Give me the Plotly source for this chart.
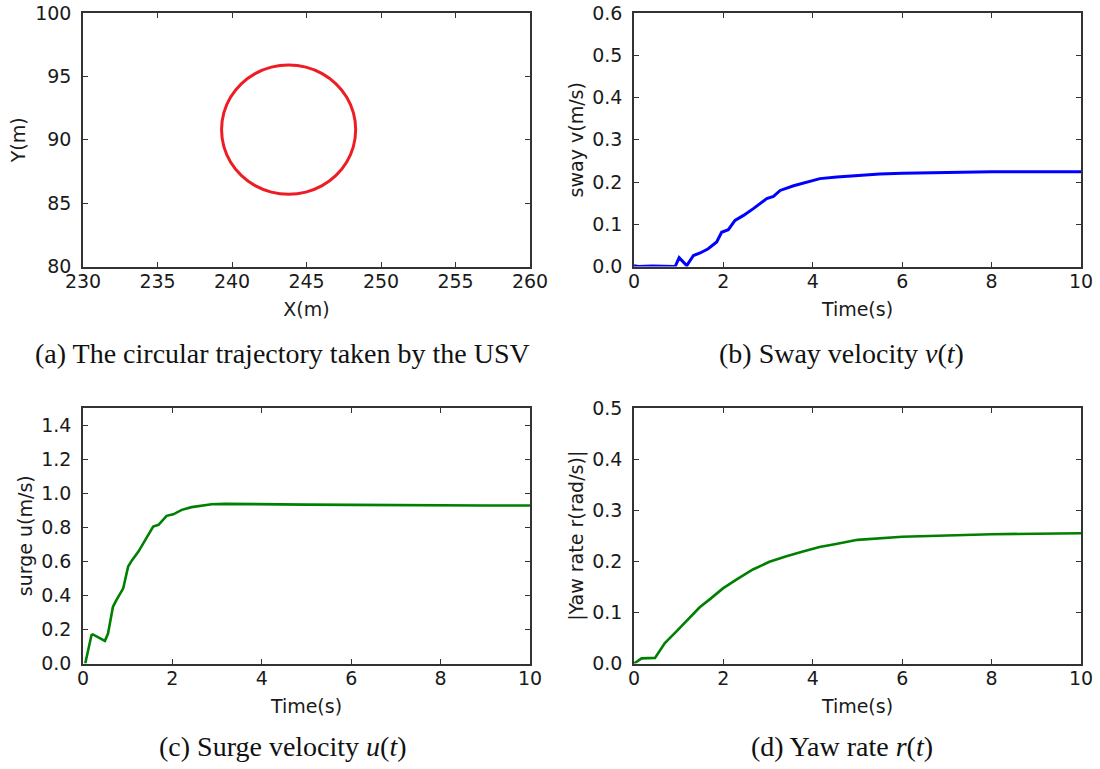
import plotly.graph_objects as go

# ---------------- data ----------------
# (a) trajectory
traj_x = [248.3, 248.15, 247.7, 246.98, 246.05, 244.96, 243.8, 242.64, 241.55, 240.62, 239.9, 239.45,
          239.3, 239.45, 239.9, 240.62, 241.55, 242.64, 243.8, 244.96, 246.05, 246.98, 247.7, 248.15, 248.3]
traj_y = [90.8, 92.12, 93.35, 94.41, 95.22, 95.73, 95.9, 95.73, 95.22, 94.41, 93.35, 92.12,
          90.8, 89.48, 88.25, 87.19, 86.38, 85.87, 85.7, 85.87, 86.38, 87.19, 88.25, 89.48, 90.8]

# (b) sway velocity
sway_t = [0.0, 0.1, 0.4, 0.6, 0.8, 0.92, 1.01, 1.18, 1.33, 1.48, 1.66, 1.85, 1.96, 2.11, 2.26, 2.45,
          2.67, 2.97, 3.12, 3.27, 3.57, 3.87, 4.16, 4.54, 4.99, 5.5, 6.0, 7.0, 8.0, 9.0, 10.0]
sway_v = [0.002, 0.0, 0.001, 0.001, 0.001, 0.0, 0.021, 0.002, 0.026, 0.032, 0.042, 0.058, 0.081, 0.087,
          0.109, 0.121, 0.137, 0.161, 0.166, 0.180, 0.191, 0.199, 0.208, 0.212, 0.216, 0.219, 0.221,
          0.223, 0.224, 0.224, 0.224]

# (c) surge velocity
surge_t = [0.05, 0.19, 0.22, 0.49, 0.56, 0.67, 0.75, 0.90, 1.01, 1.09, 1.24, 1.39, 1.57, 1.69, 1.87,
           2.02, 2.21, 2.43, 2.66, 2.88, 3.18, 3.56, 4.31, 5.0, 6.0, 7.0, 8.0, 9.0, 10.0]
surge_u = [0.0, 0.167, 0.171, 0.133, 0.176, 0.333, 0.373, 0.441, 0.569, 0.604, 0.657, 0.725, 0.804,
           0.814, 0.867, 0.876, 0.902, 0.918, 0.927, 0.935, 0.937, 0.937, 0.935, 0.933, 0.931, 0.929,
           0.928, 0.928, 0.928]

# (d) yaw rate
yaw_t = [0.0, 0.17, 0.47, 0.69, 0.95, 1.25, 1.47, 1.70, 1.99, 2.29, 2.66, 3.03, 3.41, 3.78, 4.15,
         4.52, 5.0, 6.0, 7.0, 8.0, 9.0, 10.0]
yaw_r = [0.0, 0.010, 0.011, 0.040, 0.063, 0.089, 0.110, 0.126, 0.147, 0.164, 0.184, 0.199, 0.210,
         0.219, 0.228, 0.234, 0.242, 0.248, 0.251, 0.253, 0.254, 0.255]

captions = ["(a) The circular trajectory taken by the USV",
            "(b) Sway velocity <i>v</i>(<i>t</i>)",
            "(c) Surge velocity <i>u</i>(<i>t</i>)",
            "(d) Yaw rate <i>r</i>(<i>t</i>)"]

# ---------------- figure ----------------
W, H = 1100, 769
col_dom = [[83 / W, 530 / W], [634 / W, 1081 / W]]
row_dom = [[1 - 266.5 / H, 1 - 13 / H], [1 - 663.5 / H, 1 - 408 / H]]

fig = go.Figure()
fig.add_trace(go.Scatter(x=traj_x, y=traj_y, mode="lines", line=dict(color="#ee1d23", width=3, shape="spline"),
                         xaxis="x", yaxis="y", showlegend=False))
fig.add_trace(go.Scatter(x=sway_t, y=sway_v, mode="lines", line=dict(color="#0000ff", width=3),
                         xaxis="x2", yaxis="y2", showlegend=False))
fig.add_trace(go.Scatter(x=surge_t, y=surge_u, mode="lines", line=dict(color="#008000", width=2.6),
                         xaxis="x3", yaxis="y3", showlegend=False))
fig.add_trace(go.Scatter(x=yaw_t, y=yaw_r, mode="lines", line=dict(color="#008000", width=2.6),
                         xaxis="x4", yaxis="y4", showlegend=False))

tickfont = dict(family="DejaVu Sans", size=19, color="#1a1a1a")
common = dict(showline=True, linecolor="#333333", linewidth=1.6, mirror="allticks", ticks="inside",
              ticklen=5, tickwidth=1.2, tickcolor="#333333", showgrid=False, zeroline=False,
              tickfont=tickfont, fixedrange=True, automargin=False)


def xax(dom, rng, dtick, title, anchor, fmt=None):
    d = dict(common, domain=dom, range=rng, tick0=rng[0], dtick=dtick, anchor=anchor,
             title=dict(text=title, font=tickfont, standoff=12), ticklabelstandoff=-3)
    if fmt:
        d["tickformat"] = fmt
    return d


def yax(dom, rng, dtick, title, anchor, fmt=None):
    d = dict(common, domain=dom, range=rng, tick0=rng[0], dtick=dtick, anchor=anchor,
             title=dict(text=title, font=tickfont, standoff=4), ticklabelstandoff=6)
    if fmt:
        d["tickformat"] = fmt
    return d


fig.update_layout(
    width=W, height=H,
    margin=dict(l=0, r=0, t=0, b=0),
    paper_bgcolor="white", plot_bgcolor="white",
    xaxis=xax(col_dom[0], [230, 260], 5, "X(m)", "y"),
    yaxis=yax(row_dom[0], [80, 100], 5, "Y(m)", "x"),
    xaxis2=xax(col_dom[1], [0, 10], 2, "Time(s)", "y2"),
    yaxis2=yax(row_dom[0], [0, 0.6], 0.1, "sway v(m/s)", "x2", ".1f"),
    xaxis3=xax(col_dom[0], [0, 10], 2, "Time(s)", "y3"),
    yaxis3=yax(row_dom[1], [0, 1.5], 0.2, "surge u(m/s)", "x3", ".1f"),
    xaxis4=xax(col_dom[1], [0, 10], 2, "Time(s)", "y4"),
    yaxis4=yax(row_dom[1], [0, 0.5], 0.1, "|Yaw rate r(rad/s)|", "x4", ".1f"),
)

cap_font = dict(family="Liberation Serif", size=28, color="#111111")
cap_pos = [(282, 353), (841, 353), (283, 746), (842, 746)]
for text, (cx, cy) in zip(captions, cap_pos):
    fig.add_annotation(text=text, x=cx / W, y=1 - cy / H, xref="paper", yref="paper",
                       xanchor="center", yanchor="middle", showarrow=False, font=cap_font)

fig.write_html("out.html")
